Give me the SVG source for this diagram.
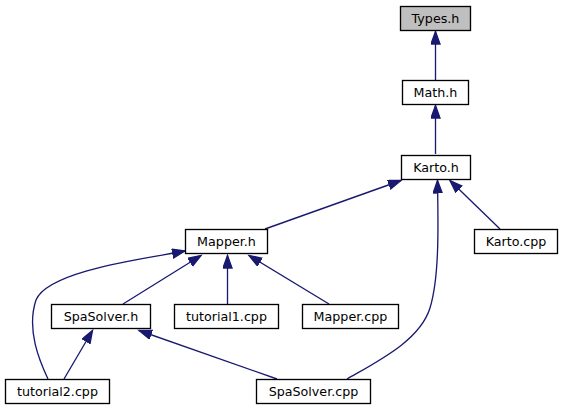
<svg xmlns="http://www.w3.org/2000/svg" width="563" height="411" viewBox="0 0 563 411">
<defs>
<style>
.node rect{fill:#ffffff;stroke:#000000;stroke-width:1.33}
.node.root rect{fill:#bfbfbf}
.node text{font-family:"DejaVu Sans",sans-serif;font-size:12.7px;fill:#000000;text-anchor:middle}
.edge{fill:none;stroke:#191970;stroke-width:1.33;marker-end:url(#arr)}
</style>
<marker id="arr" markerUnits="userSpaceOnUse" markerWidth="15" markerHeight="11" refX="13" refY="5" orient="auto">
<path d="M0.5,0.5 L13,5 L0.5,9.5 z" fill="#191970" stroke="#191970" stroke-width="1.33"/>
</marker>
</defs>
<rect width="563" height="411" fill="#ffffff"/>
<g id="connectors">
<path class="edge" d="M435.5,80 L435.5,31.5"/>
<path class="edge" d="M435.5,154 L435.5,105.5"/>
<path class="edge" d="M265,229 L401,180.5"/>
<path class="edge" d="M500,229 L450,180.5"/>
<path class="edge" d="M347,379 C380,360 420,340 430,308 C440,275 438,220 437.5,180.5"/>
<path class="edge" d="M123,304 L201,255.5"/>
<path class="edge" d="M227.5,304 L227.5,255.5"/>
<path class="edge" d="M329,304 L249,255.5"/>
<path class="edge" d="M48,379 C40,362 26,330 36,300 C48,270 150,258 185,251"/>
<path class="edge" d="M64,379 L92.5,330.5"/>
<path class="edge" d="M277,379 L139,330.5"/>
</g>
<g id="Types_h" class="node root"><rect x="400.5" y="6.5" width="70" height="24"/><text x="435.5" y="23">Types.h</text></g>
<g id="Math_h" class="node"><rect x="402.5" y="80.5" width="66" height="24"/><text x="435.5" y="97">Math.h</text></g>
<g id="Karto_h" class="node"><rect x="401.5" y="155.5" width="69" height="24"/><text x="436" y="172">Karto.h</text></g>
<g id="Karto_cpp" class="node"><rect x="474.5" y="229.5" width="83" height="24"/><text x="516" y="246">Karto.cpp</text></g>
<g id="Mapper_h" class="node"><rect x="185.5" y="229.5" width="82" height="24"/><text x="226.5" y="246">Mapper.h</text></g>
<g id="SpaSolver_h" class="node"><rect x="51.5" y="304.5" width="99" height="24"/><text x="101" y="321">SpaSolver.h</text></g>
<g id="tutorial1_cpp" class="node"><rect x="174.5" y="304.5" width="104" height="24"/><text x="226.5" y="321">tutorial1.cpp</text></g>
<g id="Mapper_cpp" class="node"><rect x="302.5" y="304.5" width="96" height="24"/><text x="350.5" y="321">Mapper.cpp</text></g>
<g id="tutorial2_cpp" class="node"><rect x="5.5" y="379.5" width="104" height="24"/><text x="57.5" y="396">tutorial2.cpp</text></g>
<g id="SpaSolver_cpp" class="node"><rect x="256.5" y="379.5" width="114" height="24"/><text x="313.5" y="396">SpaSolver.cpp</text></g>
</svg>
